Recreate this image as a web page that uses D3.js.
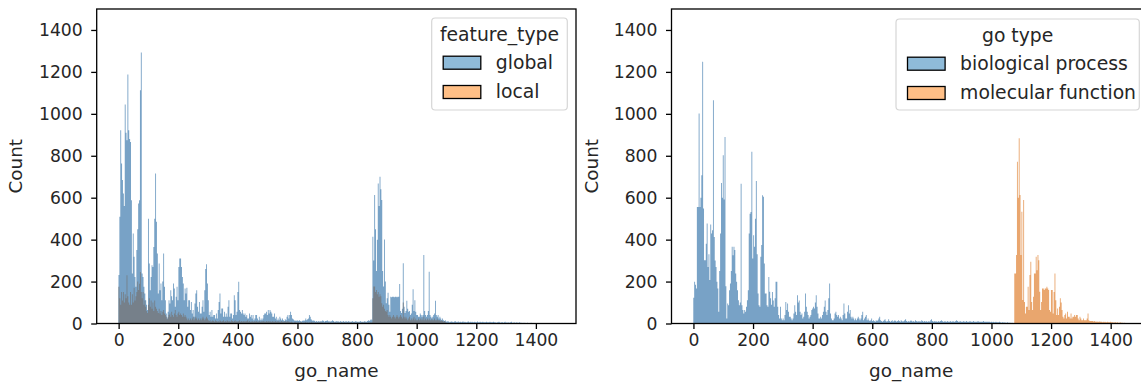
<!DOCTYPE html>
<html><head><meta charset="utf-8">
<script src="https://cdn.jsdelivr.net/npm/d3@7"></script>
<style>body{margin:0;background:#fff}svg{display:block}</style>
</head><body><svg id="c" width="1141" height="385"></svg>
<script>
// ---------------- DATA ----------------
// go_name categories (index 0 .. nCategories-1); counts read per bin of 3 consecutive categories
const nCategories = 1462;
const binSize = 3;
const xTicks = [0, 200, 400, 600, 800, 1000, 1200, 1400];
const yTicks = [0, 200, 400, 600, 800, 1000, 1200, 1400];
const yMax = 1500;

// left panel, hue = feature_type
const globalCounts = [
231,509,922,763,684,620,560,1044,910,874,
1188,922,880,866,588,238,429,318,222,175,
350,450,572,588,1113,1292,238,222,175,143,
111,90,64,500,286,159,222,278,270,365,
500,715,485,334,143,286,159,191,111,200,
334,175,111,48,24,56,111,95,159,130,
111,191,167,80,127,175,111,270,310,310,
270,222,191,111,167,143,170,80,111,111,
64,103,48,64,32,95,143,159,80,56,
103,48,48,80,111,56,159,260,283,191,
111,40,56,32,64,32,40,40,24,48,
24,64,103,143,48,72,72,32,56,32,
48,32,80,111,32,48,48,24,40,135,
111,40,56,150,199,64,56,48,64,48,
40,48,32,40,24,24,48,32,40,24,
40,16,24,40,40,24,16,32,16,24,
16,24,40,48,48,56,40,64,48,64,
56,48,32,32,48,24,32,16,24,16,
32,24,16,24,16,12,20,16,32,40,24,
40,56,40,24,20,16,12,16,12,16,
12,16,12,8,12,16,12,16,24,16,
20,24,40,32,20,16,12,16,12,8,
12,8,12,8,
12,8,12,16,12,8,12,12,16,12,
8,12,8,12,16,12,8,8,12,8,
12,8,8,12,8,8,12,8,8,12,
8,8,12,8,8,8,12,8,8,8,
12,8,8,8,8,12,8,8,8,8,
12,8,8,12,16,12,16,20,16,
414,300,613,450,250,400,668,560,700,640,
589,250,176,401,200,97,120,147,90,56,
128,125,128,128,125,128,128,125,128,128,
188,60,50,70,287,80,50,60,109,70,
56,60,40,48,90,163,60,111,56,40,
40,32,32,48,40,32,40,327,60,40,
32,40,60,247,40,32,24,32,40,48,
109,40,32,40,24,32,24,16,24,16,12,16,
10,8,12,8,6,8,10,8,6,8,
12,8,6,8,10,6,8,6,8,10,
6,8,6,6,8,10,6,8,6,8,
6,6,8,6,6,10,6,6,8,6,
6,8,6,6,6,8,6,6,6,8,
6,6,6,8,6,6,4,6,6,8,
6,4,6,6,4,6,8,4,6,4,
6,4,6,8,4,4,6,4,4,6,
4,4,6,4,4,2,4,2,4,2,
2,4,2,2,2,4,2,2,2,2,
2,2,2,1,2,2,1,2,1,1,
1,1,1,1,1,1,1,1,1,1,
1,1
];
const localCounts = [
175,120,90,150,110,150,100,140,120,230,
130,100,90,150,90,140,100,170,110,130,
150,200,160,190,246,150,120,150,90,110,
80,60,50,90,120,80,110,70,100,60,
110,80,70,60,50,70,48,60,40,56,
64,48,40,32,20,30,40,48,32,56,
40,32,48,64,40,32,48,56,40,48,
40,32,48,32,40,32,24,16,24,16,
24,16,24,32,16,24,32,24,16,24,
16,24,16,24,32,24,16,24,32,24,
16,
12,16,8,12,16,12,8,16,12,8,
12,8,16,12,8,12,16,8,12,8,
16,12,8,12,8,16,12,8,12,16,
8,12,8,12,16,8,12,8,12,8,
12,8,12,16,8,12,8,8,12,8,
8,12,8,12,8,8,12,8,8,12,
8,12,8,8,12,8,12,8,12,8,
8,12,8,8,12,8,8,12,8,8,
8,12,8,8,8,12,8,8,12,8,
8,6,8,6,4,6,8,6,4,6,
6,4,6,8,4,6,4,6,8,4,
6,4,6,4,8,6,4,6,4,6,
4,6,4,6,4,8,4,6,4,4,
6,4,4,6,4,4,6,4,4,6,
4,6,4,4,6,4,4,4,6,4,
4,6,4,4,4,6,4,4,4,6,
4,4,6,4,4,4,6,4,4,4,
4,6,4,4,6,4,4,4,6,4,
6,4,6,
120,176,176,150,160,140,150,128,140,130,
96,80,90,70,60,56,64,40,32,40,
32,24,32,40,32,24,32,40,32,24,
32,40,32,24,100,32,24,32,24,16,
24,32,16,24,16,24,32,16,24,16,
16,24,16,24,16,24,16,32,16,24,
16,24,16,24,16,16,24,16,16,24,
16,16,24,16,16,16,12,16,12,8,12,8,
4,4,2,4,2,4,4,2,4,2,
4,2,4,2,2,4,2,2,4,2,
2,4,2,2,2,4,2,2,2,2,
2,2,2,2,1,2,2,1,2,1,
1,2,1,1,2,1,1,1,1,1,
1,1,1,1,1,1,1,1,1,1,
1,1,1,1,1,1,1,1,1,1,
0,1,0,1,0,1,0,0,1,0,
0,0,1,0,0,0,0,0,0,0,
0,0,0,0,0,0,0,0,0,0,
0,0,0,0,0,0,0,0,0,0,
0,0,0,0,0,0,0,0,0,0,
0,0
];

// right panel, hue = go type
const bioCounts = [
123,199,185,167,556,556,1001,556,600,707,
1248,548,302,302,380,477,270,330,207,472,
429,445,1065,413,300,270,199,167,56,250,
429,670,600,803,592,890,178,24,95,87,
159,191,250,366,326,366,350,238,199,159,
111,87,100,667,87,64,48,64,56,80,
111,159,429,524,532,819,310,421,366,500,
680,330,143,87,80,318,374,612,604,286,
143,143,87,80,222,151,120,90,150,110,
80,120,199,199,80,40,24,80,24,16,
24,16,40,103,64,95,56,32,32,24,
16,24,48,87,56,40,135,100,110,56,
40,48,24,32,56,143,80,56,40,24,
32,40,64,72,80,72,100,135,80,48,
24,24,32,24,40,56,80,110,56,40,
64,120,191,48,24,16,16,24,48,56,
40,32,40,24,32,24,16,40,95,48,
24,24,56,87,48,64,32,24,32,24,
16,24,16,24,32,24,16,24,40,56,
16,24,32,40,16,24,16,12,16,24,
12,16,12,8,16,12,16,24,32,16,
12,8,12,16,20,12,8,12,20,12,
8,12,16,8,12,16,12,8,12,16,
12,8,16,12,8,12,16,20,12,8,
12,8,12,16,12,8,12,8,16,12,
8,12,8,12,8,16,12,8,12,8,
12,8,8,12,8,16,20,12,8,12,
8,12,8,8,12,8,12,16,12,8,
8,12,8,8,12,8,8,12,8,8,
12,8,8,12,16,12,8,8,12,8,
8,8,12,8,8,12,8,8,8,12,
8,8,8,12,8,8,8,8,12,8,
8,8,8,8,12,8,8,8,8,8,
8,8,6,8,6,8,6,6,8,6,
6,6,8,6,4,6,6,4,6,4,
4,6,4,4,4,2,4,2,2
];
const molFirstBin = 359;
const molCounts = [
239,239,327,772,600,883,613,327,533,112,
589,103,48,80,80,175,64,231,295,103,
64,127,239,239,318,254,327,302,151,64,
103,167,167,160,167,167,175,167,160,64,
56,160,160,48,150,239,111,40,72,40,
80,120,100,64,32,24,40,48,24,56,
32,32,24,48,24,32,32,40,32,40,
40,24,16,32,24,16,16,24,16,16,
16,24,48,16,12,12,12,12,10,12,
10,8,10,8,8,10,8,8,6,8,
6,8,6,6,8,6,6,8,6,6,
6,4,6,6,4,6,4,4,6,4,
4,4,2,4
];

// ---------------- DRAW ----------------
const FONT = "'DejaVu Sans', sans-serif";
const TICK_FS = 17.2, LAB_FS = 18.4, LEG_FS = 18.8;
const BLUE = "#78a2c6", ORANGE = "#e9a66e", OVERLAP = "#76808a";
const svg = d3.select("#c");

function drawPanel(p) {
  const n = nCategories;
  const xs = d3.scaleLinear().domain([-0.5 - 0.05 * n, n - 0.5 + 0.05 * n]).range([p.x0, p.x1]);
  const ys = d3.scaleLinear().domain([0, yMax]).range([p.y1, p.y0]);
  const g = svg.append("g");

  // each layer is one step-shaped histogram path (avoids seams between sub-pixel bars)
  p.layers.forEach(L => {
    const off = L.offset || 0;
    const base = L.base || (() => 0);
    const top = L.top || (d => d.v);
    const pts = L.data.map((v, i) => ({ v, i: i + off }));
    const last = pts[pts.length - 1];
    pts.push({ v: last.v, i: last.i + 1, end: true });
    const area = d3.area()
      .curve(d3.curveStepAfter)
      .x(d => xs(d.i * binSize - 0.5))
      .y0(d => ys(d.end ? 0 : base(d)))
      .y1(d => ys(d.end ? 0 : Math.max(base(d), top(d))));
    g.append("path").attr("d", area(pts)).attr("fill", L.color);
  });

  // axes
  const ax = d3.axisLeft(ys).tickValues(yTicks).tickSize(5.5).tickPadding(8.5).tickFormat(d3.format("d"));
  const gy = g.append("g").attr("transform", `translate(${p.x0},0)`).call(ax);
  const bx = d3.axisBottom(xs).tickValues(xTicks).tickSize(5.5).tickPadding(4.6).tickFormat(d3.format("d"));
  const gx = g.append("g").attr("transform", `translate(0,${p.y1})`).call(bx);
  [gy, gx].forEach(a => {
    a.select(".domain").remove();
    a.selectAll("line").attr("stroke", "#000").attr("stroke-width", 1.3);
    a.selectAll("text").attr("fill", "#262626").style("font-family", FONT).style("font-size", TICK_FS + "px");
  });
  g.append("rect").attr("x", p.x0).attr("y", p.y0).attr("width", p.x1 - p.x0).attr("height", p.y1 - p.y0)
    .attr("fill", "none").attr("stroke", "#000").attr("stroke-width", 1.3);

  g.append("text").attr("transform", `translate(${p.ylabX},${(p.y0 + p.y1) / 2}) rotate(-90)`)
    .attr("text-anchor", "middle").attr("fill", "#262626").style("font-family", FONT).style("font-size", LAB_FS + "px").text("Count");
  g.append("text").attr("x", (p.x0 + p.x1) / 2).attr("y", 377)
    .attr("text-anchor", "middle").attr("fill", "#262626").style("font-family", FONT).style("font-size", LAB_FS + "px").text("go_name");

  // legend
  const lg = p.legend;
  const lgG = svg.append("g");
  lgG.append("rect").attr("x", lg.x).attr("y", lg.y).attr("width", lg.w).attr("height", lg.h).attr("rx", 3.5)
    .attr("fill", "#fff").attr("fill-opacity", 0.8).attr("stroke", "#d6d6d6").attr("stroke-width", 1.2);
  lgG.append("text").attr("x", lg.x + lg.w / 2).attr("y", lg.y + 22.5).attr("text-anchor", "middle")
    .attr("fill", "#262626").style("font-family", FONT).style("font-size", LEG_FS + "px").text(lg.title);
  lg.items.forEach((it, j) => {
    const cy = lg.y + 44.5 + j * 29.3;
    lgG.append("rect").attr("x", lg.x + 11.5).attr("y", cy - 6.3).attr("width", 37.6).attr("height", 13)
      .attr("fill", it.color).attr("stroke", "#000").attr("stroke-width", 1.3);
    lgG.append("text").attr("x", lg.x + 11.5 + 37.6 + 15).attr("y", cy + 6.3)
      .attr("fill", "#262626").style("font-family", FONT).style("font-size", LEG_FS + "px").text(it.label);
  });
}

drawPanel({
  x0: 96.7, x1: 576, y0: 9, y1: 323.5, ylabX: 22,
  layers: [
    { data: globalCounts, color: BLUE },
    { data: localCounts, color: OVERLAP, top: d => Math.min(d.v, globalCounts[d.i] || 0) },
    { data: localCounts, color: ORANGE, base: d => Math.min(d.v, globalCounts[d.i] || 0) }
  ],
  legend: { x: 431.7, y: 18, w: 135.6, h: 92, title: "feature_type",
    items: [{ label: "global", color: "#8fbbd9" }, { label: "local", color: "#ffbf86" }] }
});
drawPanel({
  x0: 671.5, x1: 1150.8, y0: 9, y1: 323.5, ylabX: 597.5,
  layers: [
    { data: bioCounts, color: BLUE },
    { data: molCounts, offset: molFirstBin, color: ORANGE }
  ],
  legend: { x: 896, y: 19, w: 243.3, h: 91, title: "go type",
    items: [{ label: "biological process", color: "#8fbbd9" }, { label: "molecular function", color: "#ffbf86" }] }
});
</script></body></html>
